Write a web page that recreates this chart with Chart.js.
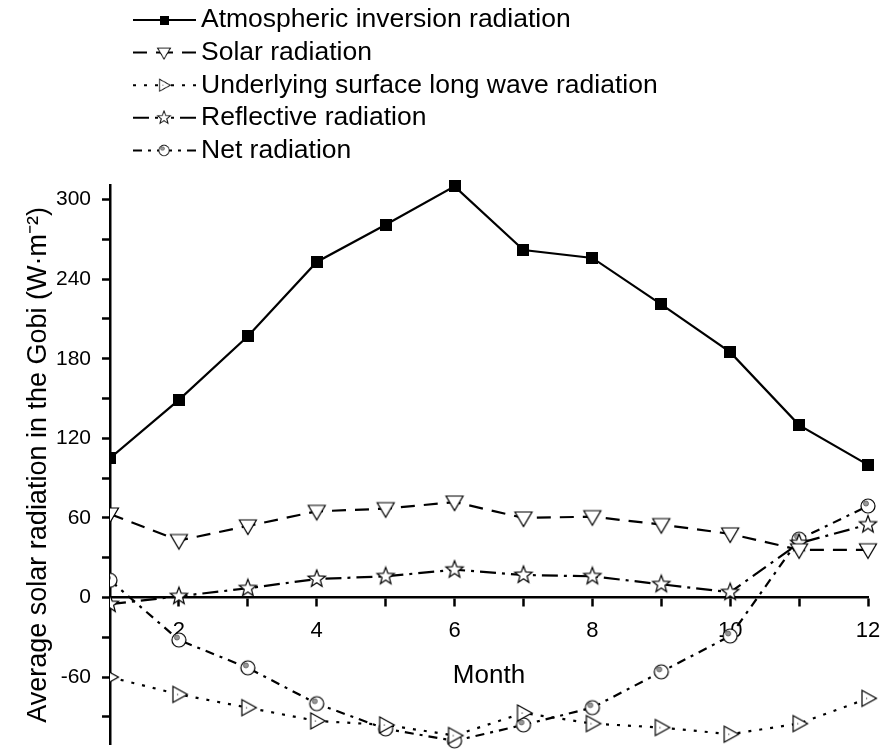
<!DOCTYPE html>
<html>
<head>
<meta charset="utf-8">
<script src="https://cdn.jsdelivr.net/npm/chart.js@4.4.1/dist/chart.umd.min.js"></script>
<style>
  html, body { margin: 0; padding: 0; background: #fff; }
  canvas { display: block; }
</style>
</head>
<body>
<canvas id="graph" width="880" height="752"></canvas>
<script>
// data (W·m-2), months 1..12
const months = [1, 2, 3, 4, 5, 6, 7, 8, 9, 10, 11, 12]
const atmospheric = [105, 149, 197, 253, 281, 310, 262, 256, 221, 185, 130, 100]
const solar = [63, 43, 54, 65, 67, 72, 60, 61, 55, 48, 36, 36]
const longWave = [-60, -73, -83, -93, -96, -104, -87, -95, -98, -103, -95, -76]
const reflective = [-5, 1, 7, 14, 16, 21, 17, 16, 10, 4, 41, 55]
const net = [13, -32, -53, -80, -99, -108, -96, -83, -56, -29, 44, 69]
const seriesNames = [
    'Atmospheric inversion radiation',
    'Solar radiation',
    'Underlying surface long wave radiation',
    'Reflective radiation',
    'Net radiation'
]

const FONT = '"Liberation Sans", Arial, sans-serif'

// little canvases used as point markers
function makeMarker(size, paint){
    const c = document.createElement('canvas')
    c.width = size
    c.height = size
    const g = c.getContext('2d')
    g.translate(size / 2, size / 2)
    g.lineWidth = 1.2
    g.strokeStyle = '#000'
    g.fillStyle = '#fff'
    paint(g)
    return c
}

const squareMark = makeMarker(12, g => {
    g.fillStyle = '#000'
    g.fillRect(-6, -6, 12, 12)
})
const downTriMark = makeMarker(22, g => {
    g.beginPath()
    g.moveTo(-8.5, -6); g.lineTo(8.5, -6); g.lineTo(0, 8.5); g.closePath()
    g.fill(); g.stroke()
})
const rightTriMark = makeMarker(22, g => {
    g.beginPath()
    g.moveTo(-6, -8); g.lineTo(-6, 8); g.lineTo(8.5, 0); g.closePath()
    g.fill(); g.stroke()
    g.fillStyle = '#444'
    g.fillRect(-2, -0.5, 1.2, 1.2)
})
const starMark = makeMarker(22, g => {
    g.beginPath()
    for(let i = 0; i < 10; i++){
        const r = i % 2 === 0 ? 9 : 3.8
        const a = -Math.PI / 2 + i * Math.PI / 5
        g.lineTo(Math.cos(a) * r, Math.sin(a) * r)
    }
    g.closePath()
    g.fill(); g.stroke()
})
const circleMark = makeMarker(18, g => {
    g.beginPath(); g.arc(0, 0, 7, 0, Math.PI * 2)
    g.fill(); g.stroke()
    g.beginPath(); g.arc(-2, -2.5, 2.5, 0, Math.PI * 2)
    g.fillStyle = '#999'; g.fill()
    g.strokeStyle = '#555'; g.lineWidth = 0.8; g.stroke()
})

function toPoints(values){
    return months.map((m, i) => ({x: m, y: values[i]}))
}

function series(label, values, dash, marker){
    return {
        label: label,
        data: toPoints(values),
        borderColor: '#000',
        backgroundColor: '#000',
        borderWidth: 2.2,
        borderDash: dash,
        pointStyle: marker,
        pointRadius: 5,
        tension: 0,
        clip: {left: 0, top: false, right: false, bottom: false}
    }
}

// legend in the top-left, one entry per row
const rowLegend = {
    id: 'rowLegend',
    afterDraw(chart){
        const ctx = chart.ctx
        chart.data.datasets.forEach((ds, i) => {
            const y = 20 + i * 32.6
            ctx.save()
            ctx.strokeStyle = '#000'
            ctx.lineWidth = 2
            ctx.setLineDash(ds.borderDash || [])
            ctx.beginPath(); ctx.moveTo(133, y); ctx.lineTo(164, y); ctx.stroke()
            ctx.beginPath(); ctx.moveTo(196, y); ctx.lineTo(164, y); ctx.stroke()
            ctx.setLineDash([])
            const m = ds.pointStyle
            const w = m.width * 0.75, h = m.height * 0.75
            ctx.drawImage(m, 164 - w / 2, y - h / 2, w, h)
            ctx.fillStyle = '#000'
            ctx.font = '26.5px ' + FONT
            ctx.textBaseline = 'middle'
            ctx.fillText(ds.label, 201, y)
            ctx.restore()
        })
    }
}

const canvas = document.querySelector('#graph')
const ctx = canvas.getContext('2d')

new Chart(ctx, {
    type: 'line',
    data: {
        datasets: [
            series(seriesNames[0], atmospheric, [], squareMark),
            series(seriesNames[1], solar, [14, 9], downTriMark),
            series(seriesNames[2], longWave, [3, 8], rightTriMark),
            series(seriesNames[3], reflective, [16, 6, 3, 6], starMark),
            series(seriesNames[4], net, [9, 6, 3, 6], circleMark)
        ]
    },
    options: {
        responsive: false,
        animation: false,
        events: [],
        layout: {padding: {top: 185, right: 12, left: 0, bottom: 0}},
        plugins: {legend: {display: false}, tooltip: {enabled: false}},
        scales: {
            x: {
                type: 'linear',
                min: 1,
                max: 12,
                position: {y: 0},
                border: {color: '#000', width: 2.5},
                grid: {drawOnChartArea: false, tickLength: 8, tickColor: '#000', tickWidth: 2.5},
                ticks: {
                    stepSize: 1, autoSkip: false, maxRotation: 0, padding: 12,
                    color: '#000', font: {family: FONT, size: 22},
                    callback: v => v % 2 === 0 ? v : ''
                },
                title: {display: true, text: 'Month', color: '#000', font: {family: FONT, size: 26}, padding: {top: 4, bottom: 0}},
                afterFit(scale){
                    scale.paddingLeft = 0
                    scale.paddingRight = 0
                }
            },
            y: {
                min: -111,
                max: 311,
                border: {color: '#000', width: 2.5},
                grid: {drawOnChartArea: false, tickLength: 8, tickColor: '#000', tickWidth: 2.5},
                ticks: {
                    stepSize: 30, includeBounds: false, padding: 11,
                    color: '#000', font: {family: FONT, size: 21},
                    callback: v => v % 60 === 0 ? v : ''
                },
                title: {display: true, text: 'Average solar radiation in the Gobi (W·m⁻²)', color: '#000', font: {family: FONT, size: 27}, padding: {top: 22, bottom: 0}},
                afterFit(scale){
                    scale.width = 110
                    scale.paddingTop = 0
                    scale.paddingBottom = 0
                }
            }
        }
    },
    plugins: [rowLegend]
})
</script>
</body>
</html>
